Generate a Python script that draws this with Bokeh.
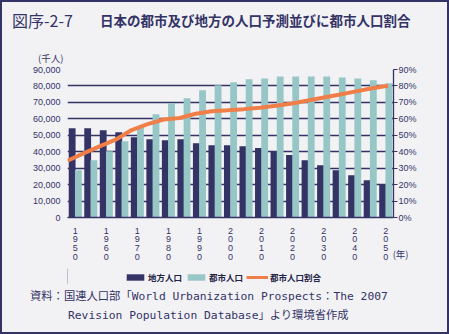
import numpy as np
from bokeh.plotting import figure
from bokeh.layouts import column
from bokeh.models import (Range1d, LinearAxis, FixedTicker, NumeralTickFormatter,
                          PrintfTickFormatter, Legend, LegendItem, ColumnDataSource, Div)
from bokeh.embed import file_html
from bokeh.resources import INLINE

years = [1950, 1955, 1960, 1965, 1970, 1975, 1980, 1985, 1990, 1995, 2000,
         2005, 2010, 2015, 2020, 2025, 2030, 2035, 2040, 2045, 2050]
rural = [54300, 54300, 53000, 51800, 48800, 47600, 47000, 47600, 45200, 44000, 44000,
         43400, 42200, 40400, 38000, 34800, 31800, 28800, 25700, 22700, 20300]
urban = [28800, 34800, 40300, 46400, 55500, 62800, 69700, 72500, 77400, 80400, 82200,
         84000, 84600, 85800, 85800, 85800, 85800, 85200, 84600, 83400, 81600]
urban_pct = [34.6, 39.0, 43.2, 47.3, 53.2, 56.8, 59.6, 60.5, 63.1, 64.6, 65.2,
             65.9, 66.8, 68.0, 69.3, 71.1, 73.0, 74.8, 76.7, 78.6, 80.1]
label_years = [1950, 1960, 1970, 1980, 1990, 2000, 2010, 2020, 2030, 2040, 2050]
left_ticks = [0, 10000, 20000, 30000, 40000, 50000, 60000, 70000, 80000, 90000]
right_ticks = [0, 10, 20, 30, 40, 50, 60, 70, 80, 90]
series_names = ["地方人口", "都市人口", "都市人口割合"]
title_num = "図序-2-7"
title_text = "日本の都市及び地方の人口予測並びに都市人口割合"
unit_text = "(千人)"
year_unit = "(年)"
source_lines = ["資料：国連人口部「World Urbanization Prospects：The 2007",
                "Revision Population Database」より環境省作成"]

NAVY = "#333366"
TEAL = "#97c6c7"
ORANGE = "#f07e48"
BG = "#f2f2f5"
JP = "'Noto Sans CJK JP'"
NUM = "'Liberation Sans'"
W = 445


def span(left, top, text, size, lh, bold=False, font="'Noto Sans CJK JP', sans-serif"):
    return (f"<div style=\"position:absolute;left:{left}px;top:{top}px;white-space:nowrap;"
            f"font-family:{font};font-size:{size};line-height:{lh}px;color:{NAVY};"
            f"font-weight:{'bold' if bold else 'normal'};\">{text}</div>")


# ---- header (HTML text) ----
head = Div(width=W, height=62, margin=0,
           styles={"position": "relative", "background-color": BG, "overflow": "visible"},
           text=span(10, 8, title_num, "16px", 20)
           + span(98, 8, title_text, "13.5px", 20, bold=True)
           + span(36, 50, unit_text, "9.5px", 12))

# ---- main chart ----
n = len(years)
idx = np.arange(n)
src = ColumnDataSource(dict(
    xr=idx - 0.2, xu=idx + 0.2, rural=rural, urban=urban,
    xl=np.linspace(-0.5, 20.15, n), pct=urban_pct))

p = figure(width=W, height=204, output_backend="svg", toolbar_location=None,
           x_range=Range1d(-0.5, 20.5), y_range=Range1d(0, 90000),
           min_border_left=65, min_border_right=54, min_border_top=5, min_border_bottom=51,
           background_fill_color=BG, border_fill_color=BG, outline_line_color=None)
p.extra_y_ranges = {"pct": Range1d(0, 90)}

p.vbar(x="xr", top="rural", width=0.44, source=src, fill_color=NAVY, line_color=None)
p.vbar(x="xu", top="urban", width=0.44, source=src, fill_color=TEAL, line_color=None)
p.line(x="xl", y="pct", source=src, y_range_name="pct", line_color=ORANGE, line_width=4)

p.xgrid.visible = False
p.ygrid.ticker = FixedTicker(ticks=left_ticks)
p.ygrid.grid_line_color = NAVY
p.ygrid.grid_line_width = 1.3

ya = p.yaxis[0]
ya.ticker = FixedTicker(ticks=left_ticks)
ya.formatter = NumeralTickFormatter(format="0,0")
ya.axis_line_color = None
ya.major_tick_line_color = None
ya.minor_tick_line_color = None
ya.major_label_standoff = 1
ya.major_label_text_font = NUM
ya.major_label_text_font_size = "9px"
ya.major_label_text_color = NAVY

ra = LinearAxis(y_range_name="pct", ticker=FixedTicker(ticks=right_ticks),
                formatter=PrintfTickFormatter(format="%d%%"))
ra.axis_line_color = NAVY
ra.axis_line_width = 1.3
ra.major_tick_line_color = NAVY
ra.major_tick_out = 4
ra.major_tick_in = 0
ra.minor_tick_line_color = None
ra.major_label_standoff = 1
ra.major_label_text_font = NUM
ra.major_label_text_font_size = "9px"
ra.major_label_text_color = NAVY
p.add_layout(ra, "right")

xa = p.xaxis[0]
tick_pos = [years.index(y) for y in label_years]
xa.ticker = FixedTicker(ticks=tick_pos)
xa.major_label_overrides = {i: "\n".join(str(y)) for i, y in zip(tick_pos, label_years)}
xa.axis_line_color = NAVY
xa.axis_line_width = 1.5
xa.major_tick_line_color = None
xa.minor_tick_line_color = None
xa.major_label_standoff = 2
xa.major_label_text_font = NUM
xa.major_label_text_font_size = "9px"
xa.major_label_text_line_height = 0.87
xa.major_label_text_color = NAVY
xa.axis_label = "\u3000\u2002" + year_unit
xa.axis_label_align = "end"
xa.axis_label_text_align = "left"
xa.axis_label_standoff = -18
xa.axis_label_text_font = JP
xa.axis_label_text_font_size = "9.5px"
xa.axis_label_text_font_style = "normal"
xa.axis_label_text_color = NAVY

# ---- legend strip (frame aligned with the main chart) ----
leg = figure(width=W, height=16, output_backend="svg", toolbar_location=None,
             x_range=Range1d(0, 1), y_range=Range1d(0, 1),
             x_axis_type=None, y_axis_type=None,
             min_border_left=65, min_border_right=54, min_border_top=0, min_border_bottom=0,
             background_fill_color=BG, border_fill_color=BG, outline_line_color=None)
leg.xgrid.visible = False
leg.ygrid.visible = False
d1 = leg.vbar(x=[-10], top=[1], width=1, fill_color=NAVY, line_color=None)
d2 = leg.vbar(x=[-10], top=[1], width=1, fill_color=TEAL, line_color=None)
d3 = leg.line(x=[-10, -9], y=[0, 0], line_color=ORANGE, line_width=3)
legend = Legend(items=[LegendItem(label=series_names[0], renderers=[d1]),
                       LegendItem(label=series_names[1], renderers=[d2]),
                       LegendItem(label=series_names[2], renderers=[d3])],
                location=(57, 1), orientation="horizontal",
                background_fill_alpha=0, border_line_color=None,
                padding=0, margin=0, spacing=3, label_standoff=2,
                glyph_width=22, glyph_height=8, label_height=12,
                label_text_font=JP, label_text_font_size="8.5px",
                label_text_font_style="bold", label_text_color="#222244")
leg.add_layout(legend)

# ---- footer (source, HTML text) ----
mono = "'DejaVu Sans Mono', 'Noto Sans CJK JP', monospace"
foot = Div(width=W, height=48, margin=0,
           styles={"position": "relative", "background-color": BG, "overflow": "visible"},
           text=span(28, 6, source_lines[0], "11.3px", 14, font=mono)
           + span(66, 25, source_lines[1], "11.3px", 14, font=mono))

layout = column(head, p, leg, foot, spacing=0)
layout.styles = {"border": "2px solid " + NAVY, "background-color": BG}

open("out.html", "w").write(file_html(layout, INLINE))
